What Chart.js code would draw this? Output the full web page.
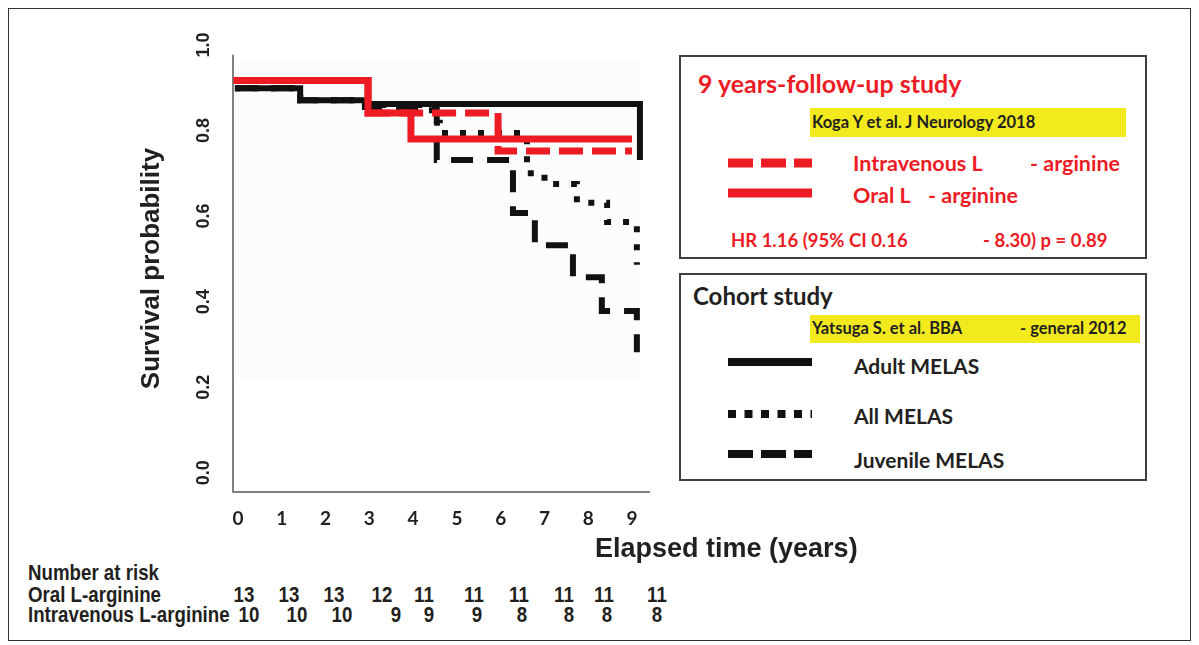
<!DOCTYPE html>
<html>
<head>
<meta charset="utf-8">
<script src="https://cdn.jsdelivr.net/npm/chart.js@4.4.1/dist/chart.umd.min.js"></script>
<style>
  html, body { margin: 0; padding: 0; background: #fff; width: 1199px; height: 645px; overflow: hidden; }
  #frame { position: absolute; left: 8px; top: 8px; width: 1181px; height: 631px; border: 1px solid #333; }
  #wrap { position: absolute; left: 0; top: 0; }
  .t { position: absolute; white-space: nowrap; font-family: Lato, "Open Sans", sans-serif; font-weight: bold; line-height: 1; color: #231f20; }
  .red { color: #ed1c24; }
  .box { position: absolute; border: 2px solid #404040; box-sizing: border-box; }
  .hl { position: absolute; background: #f2ea1c; }
  .ar { position: absolute; white-space: nowrap; font-family: "Liberation Sans", Arial, sans-serif; font-weight: bold; font-size: 22px; line-height: 1; color: #231f20; transform-origin: left center; transform: scaleX(0.85); }
  .num { transform: translateX(-50%) scaleX(0.85); transform-origin: center center; }
  svg.s { position: absolute; }
</style>
</head>
<body>
<div id="frame"></div>
<div id="wrap"><canvas id="kmChart" width="660" height="545"></canvas></div>

<!-- x axis title -->
<div class="t" style="left:595px; top:535px; font-family:'Liberation Sans', Arial, sans-serif; font-size:27px;">Elapsed time (years)</div>

<!-- number at risk -->
<div class="ar" style="left:28px; top:562px;">Number at risk</div>
<div class="ar" style="left:28px; top:584px;">Oral L-arginine</div>
<div class="ar" style="left:28px; top:604px;">Intravenous L-arginine</div>
<div id="riskRows"></div>

<!-- legend box 1 -->
<div class="box" style="left:679px; top:55px; width:468px; height:204px;"></div>
<div class="t red" style="left:698px; top:71px; font-size:25px;">9 years-follow-up study</div>
<div class="hl" style="left:810px; top:108px; width:316px; height:29px;"></div>
<div class="t" style="left:812px; top:114px; font-size:16.5px;">Koga Y et al. J Neurology 2018</div>
<svg class="s" style="left:728px; top:157px;" width="84" height="12"><line x1="0" y1="6" x2="84" y2="6" stroke="#ed1c24" stroke-width="9" stroke-dasharray="25 8"/></svg>
<div class="t red" style="left:853px; top:153px; font-size:21.5px;">Intravenous L</div>
<div class="t red" style="left:1030px; top:153px; font-size:21.5px;">- arginine</div>
<svg class="s" style="left:728px; top:187px;" width="84" height="12"><line x1="0" y1="6" x2="84" y2="6" stroke="#ed1c24" stroke-width="9"/></svg>
<div class="t red" style="left:853px; top:185px; font-size:21.5px;">Oral L</div>
<div class="t red" style="left:928px; top:185px; font-size:21.5px;">- arginine</div>
<div class="t red" style="left:731px; top:231px; font-size:18.5px;">HR 1.16 (95% CI 0.16</div>
<div class="t red" style="left:983px; top:231px; font-size:18.5px;">- 8.30) p = 0.89</div>

<!-- legend box 2 -->
<div class="box" style="left:679px; top:273px; width:468px; height:208px;"></div>
<div class="t" style="left:693px; top:284px; font-size:24px;">Cohort study</div>
<div class="hl" style="left:810px; top:315px; width:330px; height:28px;"></div>
<div class="t" style="left:812px; top:320px; font-size:16.5px;">Yatsuga S. et al. BBA</div>
<div class="t" style="left:1020px; top:320px; font-size:16.5px;">- general 2012</div>
<svg class="s" style="left:728px; top:356px;" width="84" height="12"><line x1="0" y1="6" x2="84" y2="6" stroke="#111" stroke-width="8"/></svg>
<div class="t" style="left:854px; top:355px; font-size:21px;">Adult MELAS</div>
<svg class="s" style="left:728px; top:408px;" width="84" height="12"><line x1="0" y1="6" x2="84" y2="6" stroke="#111" stroke-width="8" stroke-dasharray="8 8.5"/></svg>
<div class="t" style="left:854px; top:405px; font-size:21px;">All MELAS</div>
<svg class="s" style="left:728px; top:448px;" width="84" height="12"><line x1="0" y1="6" x2="84" y2="6" stroke="#111" stroke-width="8" stroke-dasharray="25 8"/></svg>
<div class="t" style="left:854px; top:449px; font-size:21px;">Juvenile MELAS</div>

<script>
// ticks
const xTicks = [0, 1, 2, 3, 4, 5, 6, 7, 8, 9];
const yTicks = [0, 0.2, 0.4, 0.6, 0.8, 1.0];

// Koga 2018 - L-arginine groups (red)
const oralTime = [-0.1, 2.97, 3.95, 9.0];
const oralSurv = [0.917, 0.841, 0.780, 0.780];
const ivTime = [-0.1, 2.97, 5.94, 9.0];
const ivSurv = [0.917, 0.841, 0.752, 0.752];

// Yatsuga 2012 cohort (black)
const adultTime = [-0.07, 1.42, 2.9, 9.18];
const adultSurv = [0.899, 0.871, 0.862, 0.731];
const allTime = [-0.07, 1.42, 2.9, 4.43, 4.61, 6.6, 7.0, 7.74, 8.43, 9.11];
const allSurv = [0.899, 0.871, 0.86, 0.818, 0.794, 0.70, 0.675, 0.631, 0.586, 0.486];
const juvTime = [-0.07, 1.42, 2.9, 4.54, 6.28, 6.78, 7.65, 8.31, 9.11];
const juvSurv = [0.899, 0.871, 0.855, 0.731, 0.607, 0.532, 0.457, 0.378, 0.282];

// number at risk
const riskOral = [13, 13, 13, 12, 11, 11, 11, 11, 11, 11];
const riskIv = [10, 10, 10, 9, 9, 9, 8, 8, 8, 8];

// where the risk numbers sit (layout only)
const riskOralX = [244, 289, 334, 382, 424, 474, 519, 564, 604, 657];
const riskIvX = [249, 297, 342, 396, 429, 477, 522, 569, 607, 657];

const rows = document.getElementById('riskRows');
function riskRow(vals, xs, top) {
    vals.forEach((v, i) => {
        const d = document.createElement('div');
        d.className = 'ar num';
        d.style.left = xs[i] + 'px';
        d.style.top = top + 'px';
        d.textContent = v;
        rows.appendChild(d);
    });
}
riskRow(riskOral, riskOralX, 584);
riskRow(riskIv, riskIvX, 604);

const pts = (t, s) => t.map((v, i) => ({ x: v, y: s[i] }));

const RED = '#ed1c24';
const BLACK = '#111111';

// faint background of the pasted cohort figure + the axis lines
const axesPlugin = {
    id: 'axesPlugin',
    beforeDatasetsDraw(chart) {
        const { ctx, chartArea, scales: { x, y } } = chart;
        ctx.save();
        ctx.fillStyle = '#fbfcfe';
        const bx0 = x.getPixelForValue(-0.07), bx1 = x.getPixelForValue(9.18);
        const by0 = y.getPixelForValue(0.96), by1 = y.getPixelForValue(0.22);
        ctx.fillRect(bx0, by0, bx1 - bx0, by1 - by0);
        ctx.strokeStyle = '#808080';
        ctx.lineWidth = 2;
        ctx.beginPath();
        ctx.moveTo(chartArea.left, y.getPixelForValue(0.977));
        ctx.lineTo(chartArea.left, chartArea.bottom);
        ctx.lineTo(chartArea.right, chartArea.bottom);
        ctx.stroke();
        ctx.restore();
    }
};

const base = { stepped: 'before', pointRadius: 0, fill: false, borderCapStyle: 'butt', borderJoinStyle: 'miter' };

const ctx = document.getElementById('kmChart').getContext('2d');
new Chart(ctx, {
    type: 'line',
    data: {
        datasets: [
            { ...base, label: 'Oral L-arginine', data: pts(oralTime, oralSurv), borderColor: RED, borderWidth: 7 },
            { ...base, label: 'Intravenous L-arginine', data: pts(ivTime, ivSurv), borderColor: RED, borderWidth: 7, borderDash: [24, 9] },
            { ...base, label: 'Adult MELAS', data: pts(adultTime, adultSurv), borderColor: BLACK, borderWidth: 6 },
            { ...base, label: 'All MELAS', data: pts(allTime, allSurv), borderColor: BLACK, borderWidth: 6, borderDash: [6, 12] },
            { ...base, label: 'Juvenile MELAS', data: pts(juvTime, juvSurv), borderColor: BLACK, borderWidth: 6, borderDash: [22, 14] }
        ]
    },
    options: {
        responsive: false,
        animation: false,
        layout: { padding: { left: 136, top: 45, right: 10, bottom: 0 } },
        plugins: { legend: { display: false }, tooltip: { enabled: false } },
        scales: {
            x: {
                type: 'linear',
                min: -0.114,
                max: 9.41,
                grid: { display: false, drawTicks: false },
                border: { display: false },
                afterBuildTicks: s => { s.ticks = xTicks.map(v => ({ value: v })); },
                afterFit: s => { s.height = 53; },
                ticks: {
                    padding: 15,
                    maxRotation: 0,
                    color: '#231f20',
                    font: { family: 'Lato', weight: 'bold', size: 19 }
                }
            },
            y: {
                min: -0.045,
                max: 1.0,
                grid: { display: false, drawTicks: false },
                border: { display: false },
                afterBuildTicks: s => { s.ticks = yTicks.map(v => ({ value: v })); },
                afterFit: s => { s.width = 97; },
                ticks: {
                    minRotation: 90,
                    maxRotation: 90,
                    crossAlign: 'center',
                    padding: 16,
                    color: '#231f20',
                    font: { family: 'Liberation Sans', weight: 'bold', size: 18 },
                    callback: v => v.toFixed(1)
                },
                title: {
                    display: true,
                    text: 'Survival probability',
                    color: '#231f20',
                    padding: { top: 0, bottom: 0 },
                    font: { family: 'Liberation Sans', weight: 'bold', size: 26 }
                }
            }
        }
    },
    plugins: [axesPlugin]
});
</script>
</body>
</html>
